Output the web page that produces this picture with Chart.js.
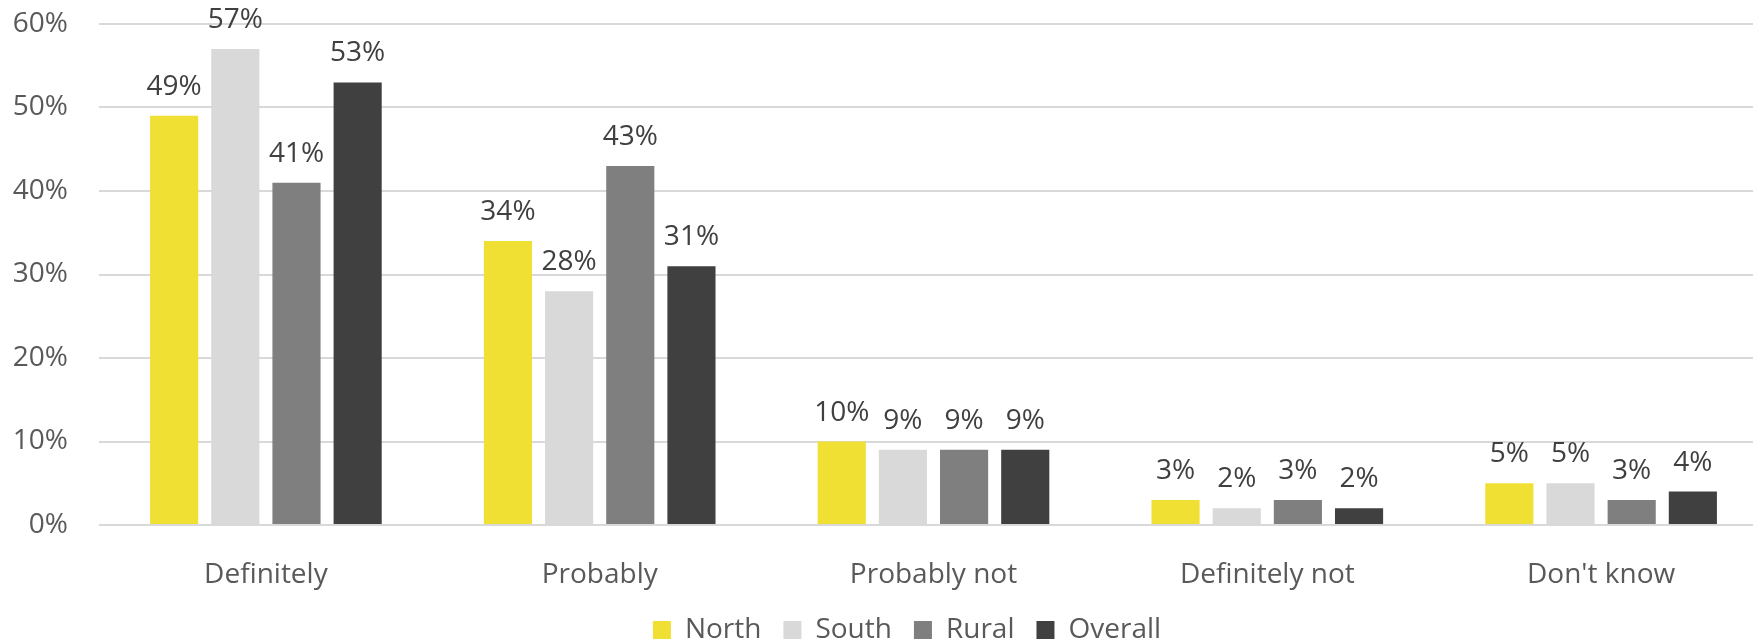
<!DOCTYPE html>
<html>
<head>
<meta charset="utf-8">
<script src="https://cdn.jsdelivr.net/npm/chart.js@4/dist/chart.umd.min.js"></script>
<style>
  html, body { margin: 0; padding: 0; background: #fff; overflow: hidden; }
  #wrap { width: 1768px; height: 643px; }
</style>
</head>
<body>
<div id="wrap"><canvas id="myChart"></canvas></div>
<script>
const categories = ["Definitely", "Probably", "Probably not", "Definitely not", "Don't know"];
const north = [49, 34, 10, 3, 5];
const south = [57, 28, 9, 2, 5];
const rural = [41, 43, 9, 3, 3];
const overall = [53, 31, 9, 2, 4];
const yTicks = [0, 10, 20, 30, 40, 50, 60];

const FONT = "'Open Sans', sans-serif";

// labels above each bar
const barLabels = {
  id: "barLabels",
  afterLayout(chart) {
    // place legend like the original (a bit right of centre, row at y 630)
    const lg = chart.legend;
    lg.left += 23;
    lg.right += 23;
    lg.top = 594;
    lg.bottom = 660;
    lg.height = 66;
  },
  afterDatasetsDraw(chart) {
    const ctx = chart.ctx;
    ctx.save();
    ctx.font = "28px " + FONT;
    ctx.fillStyle = "#404040";
    ctx.textAlign = "center";
    ctx.textBaseline = "alphabetic";
    chart.data.datasets.forEach((ds, i) => {
      chart.getDatasetMeta(i).data.forEach((bar, j) => {
        ctx.fillText(ds.data[j] + "%", bar.x, bar.y - 21);
      });
    });
    ctx.restore();
  }
};

new Chart("myChart", {
  type: "bar",
  data: {
    labels: categories,
    datasets: [
      { label: "North", data: north, backgroundColor: "#F0E033" },
      { label: "South", data: south, backgroundColor: "#D9D9D9" },
      { label: "Rural", data: rural, backgroundColor: "#7F7F7F" },
      { label: "Overall", data: overall, backgroundColor: "#404040" }
    ]
  },
  options: {
    responsive: true,
    maintainAspectRatio: false,
    animation: false,
    categoryPercentage: 0.733,
    barPercentage: 0.787,
    layout: { padding: { top: 24, right: 0, bottom: 0, left: 0 } },
    plugins: {
      tooltip: { enabled: false },
      legend: {
        position: "bottom",
        maxHeight: 35,
        labels: {
          font: { family: FONT, size: 28, lineHeight: 1 },
          color: "#595959",
          boxWidth: 18,
          boxHeight: 18,
          padding: 22
        }
      }
    },
    scales: {
      x: {
        afterFit(s) { s.height = 83; },
        grid: { display: false },
        border: { display: false },
        ticks: { font: { family: FONT, size: 28 }, color: "#595959", padding: 25 }
      },
      y: {
        min: 0,
        max: 60,
        afterBuildTicks(s) { s.ticks = yTicks.map(v => ({ value: v })); },
        afterFit(s) { s.width = 99; s.paddingTop = 0; s.paddingBottom = 0; },
        grid: { color: "#D9D9D9", lineWidth: 2, drawTicks: false },
        border: { display: false },
        ticks: {
          font: { family: FONT, size: 28 },
          color: "#595959",
          padding: 31,
          callback: v => v + "%"
        }
      }
    }
  },
  plugins: [barLabels]
});
</script>
</body>
</html>
